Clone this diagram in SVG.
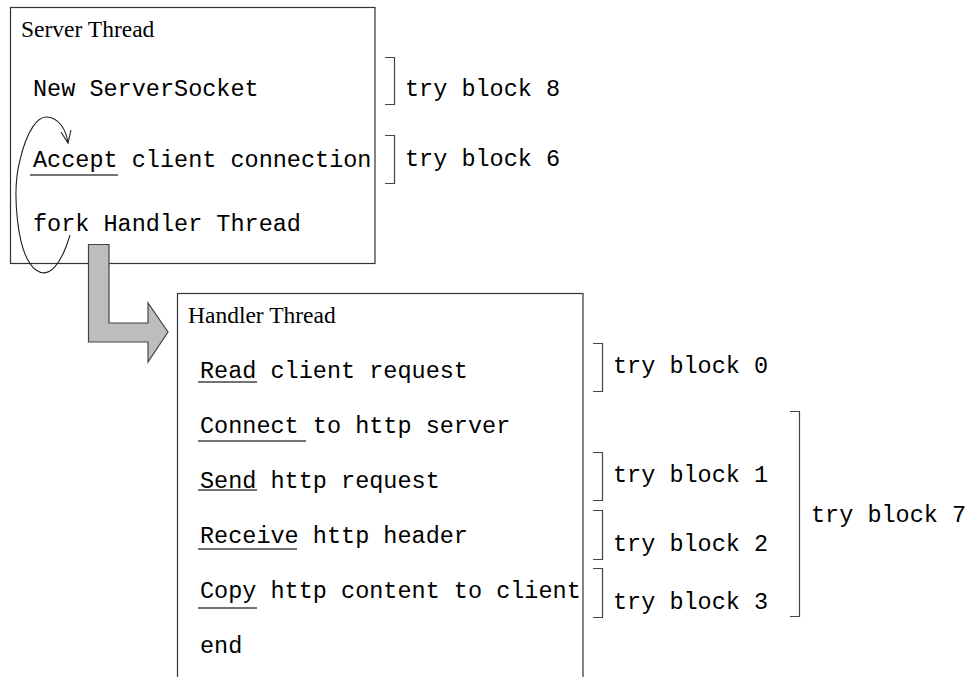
<svg xmlns="http://www.w3.org/2000/svg" width="967" height="677" viewBox="0 0 967 677">
<style>
.box{fill:#fff;stroke:#333;stroke-width:1.2}
.title{font-family:"Liberation Serif",serif;font-size:23.5px;fill:#000}
.mono{font-family:"Liberation Mono",monospace;font-size:23.5px;fill:#000}
.ul{stroke:#444;stroke-width:1.3;fill:none}
.br{stroke:#444;stroke-width:1.2;fill:none}
.fork{fill:#bdbdbd;stroke:#444;stroke-width:1.2}
.loop{fill:none;stroke:#222;stroke-width:1.1}
</style>
<rect width="967" height="677" fill="#fff"/>
<g id="server-thread">
<rect class="box" x="10.5" y="7.5" width="364.5" height="256"/>
<text class="title" x="21" y="37">Server Thread</text>
<text class="mono" x="33" y="96">New ServerSocket</text>
<text class="mono" x="33" y="167">Accept client connection</text>
<line class="ul" x1="30" y1="175" x2="118" y2="175"/>
<text class="mono" x="33" y="231">fork Handler Thread</text>
</g>
<g id="handler-thread">
<rect class="box" x="177.5" y="293.5" width="405.5" height="400"/>
<text class="title" x="188" y="323">Handler Thread</text>
<text class="mono" x="200" y="378">Read client request</text>
<line class="ul" x1="198" y1="382" x2="257" y2="382"/>
<text class="mono" x="200" y="433">Connect to http server</text>
<line class="ul" x1="198" y1="441" x2="306" y2="441"/>
<text class="mono" x="200" y="488">Send http request</text>
<line class="ul" x1="198" y1="490" x2="257" y2="490"/>
<text class="mono" x="200" y="543">Receive http header</text>
<line class="ul" x1="198" y1="549" x2="297" y2="549"/>
<text class="mono" x="200" y="598">Copy http content to client</text>
<line class="ul" x1="198" y1="608" x2="257" y2="608"/>
<text class="mono" x="200" y="653">end</text>
</g>
<g id="connectors">
<path class="loop" d="M70,235 C62,262 50,280 36,270 C16,255 12,190 20,160 C27,130 38,116 47,117 C58,118 66,128 68,143"/>
<polyline class="loop" points="61,132 68,143 71,130"/>
<polygon class="fork" points="88.5,244.5 109,244.5 109,323 148,323 148,303 168,332 148,362 148,342 88.5,342"/>
</g>
<g id="try-block-8">
<polyline class="br" points="385,57.5 394.5,57.5 394.5,104.5 385,104.5"/>
<text class="mono" x="405" y="96">try block 8</text>
</g>
<g id="try-block-6">
<polyline class="br" points="385,135.5 394.5,135.5 394.5,183.5 385,183.5"/>
<text class="mono" x="405" y="166">try block 6</text>
</g>
<g id="try-block-0">
<polyline class="br" points="593,343.5 602.5,343.5 602.5,391.5 593,391.5"/>
<text class="mono" x="613" y="373">try block 0</text>
</g>
<g id="try-block-1">
<polyline class="br" points="593,452.5 602.5,452.5 602.5,500.5 593,500.5"/>
<text class="mono" x="613" y="482">try block 1</text>
</g>
<g id="try-block-2">
<polyline class="br" points="593,510.5 602.5,510.5 602.5,559.5 593,559.5"/>
<text class="mono" x="613" y="551">try block 2</text>
</g>
<g id="try-block-3">
<polyline class="br" points="593,568.5 602.5,568.5 602.5,617.5 593,617.5"/>
<text class="mono" x="613" y="609">try block 3</text>
</g>
<g id="try-block-7">
<polyline class="br" points="790,411.5 799.5,411.5 799.5,616.5 790,616.5"/>
<text class="mono" x="811" y="522">try block 7</text>
</g>
</svg>
